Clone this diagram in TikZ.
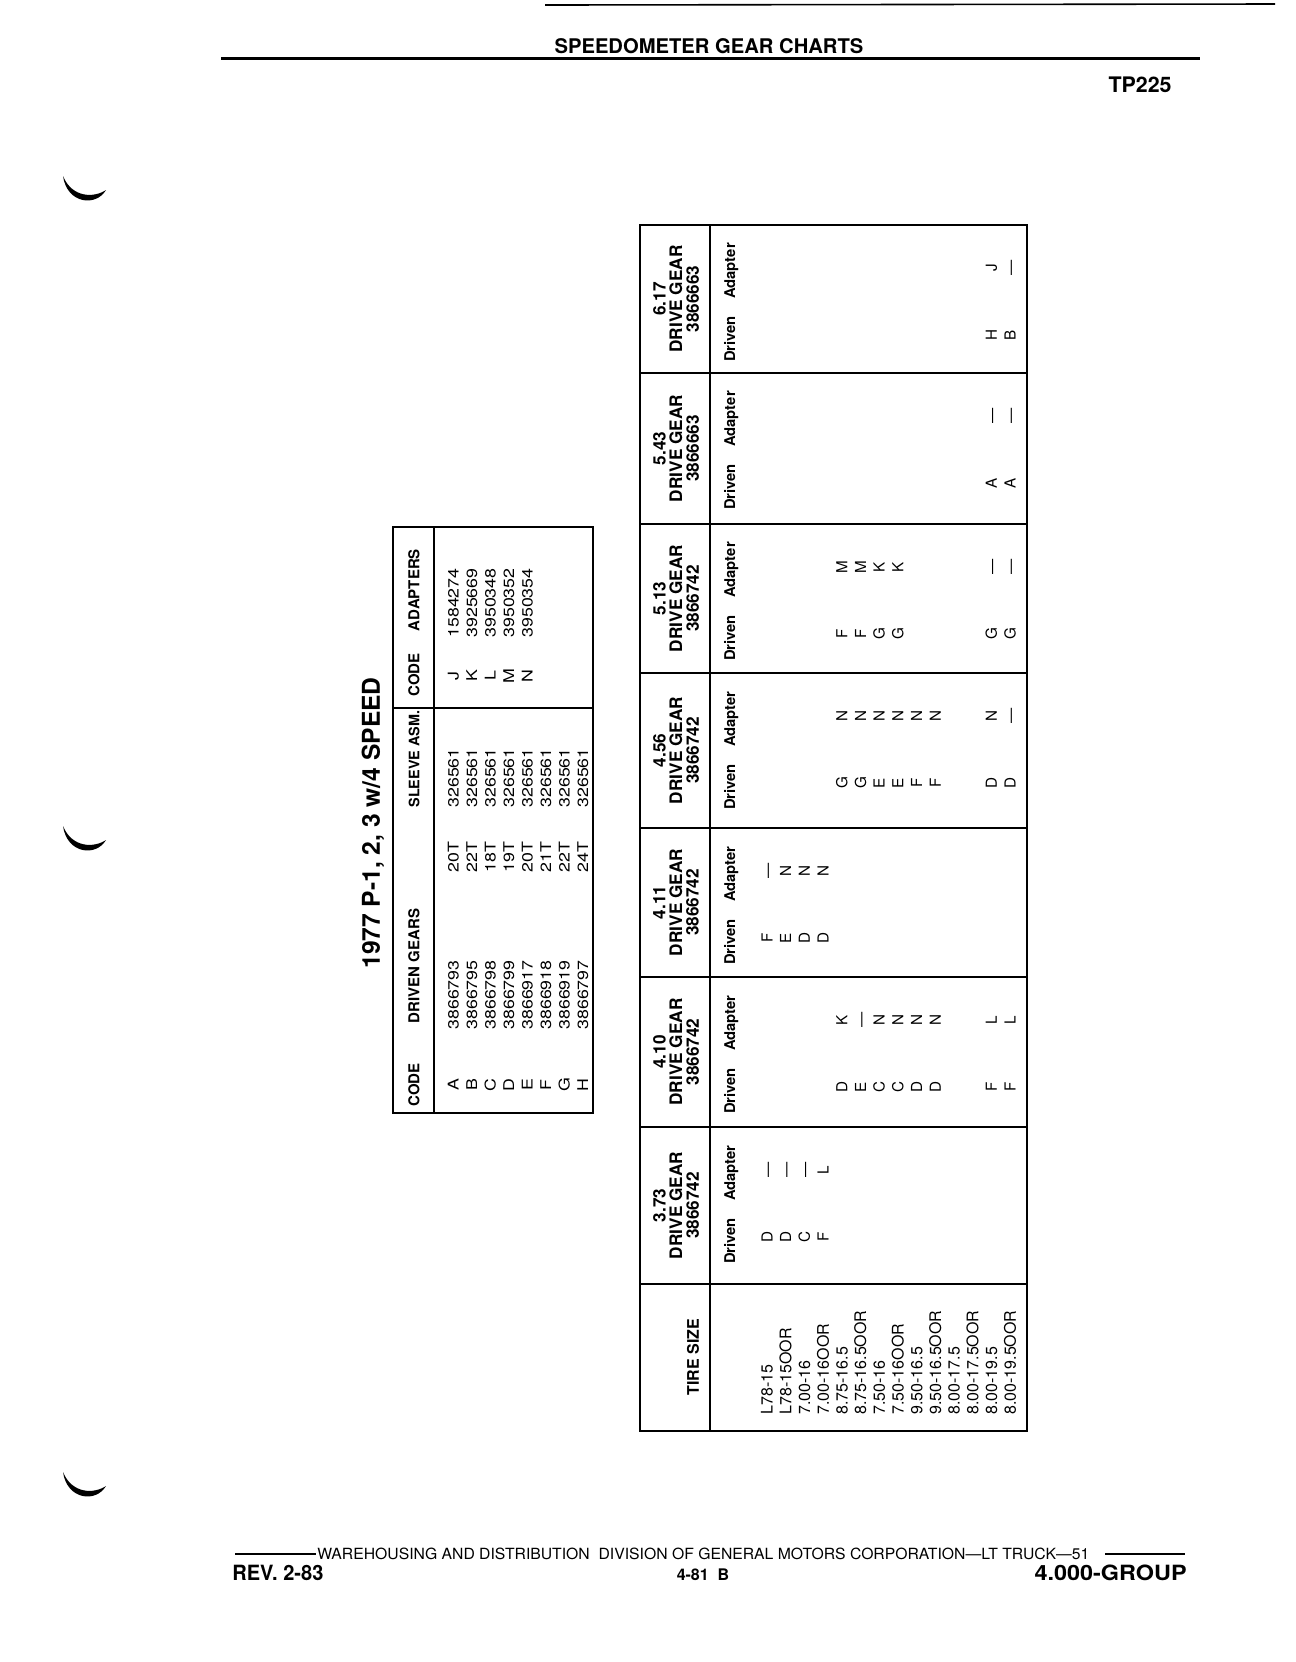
\documentclass[tikz,border=0pt]{standalone}
\usepackage{fontspec}
\setmainfont{TeX Gyre Heros}
\newfontfamily\widefont[FakeStretch=1.2]{TeX Gyre Heros}
\usepackage{graphicx}

\begin{document}
\begin{tikzpicture}[x=0.5pt, y=-0.5pt]
    \tikzset{frame/.style = {line width=1pt},
             hdr/.style = {rotate=90, inner sep=0pt, align=center, font=\fontsize{8.6}{8.3}\selectfont\bfseries},
             lbl/.style = {rotate=90, inner sep=0pt, anchor=base, font=\fontsize{7.4}{9}\selectfont\bfseries},
             cell/.style = {rotate=90, inner sep=0pt, anchor=base, font=\fontsize{7.6}{8}\selectfont},
             tire/.style = {rotate=90, inner sep=0pt, anchor=base west, font=\fontsize{8}{9}\selectfont},
             colhdr/.style = {rotate=90, inner sep=0pt, font=\fontsize{7.5}{8}\selectfont\bfseries},
             entry/.style = {rotate=90, inner sep=0pt, font=\widefont\fontsize{7.4}{8}\selectfont},
             plain/.style = {inner sep=0pt}
            }
    \useasboundingbox (0,0) rectangle (1296,1662);

    % page head
    \draw[line width=0.8pt] (545,5) -- (1275,4);
    \draw[line width=1.5pt] (221,58) -- (1200,58);
    \node[plain, anchor=base, font=\fontsize{10.1}{12}\selectfont\bfseries] (head) at (709,53) {SPEEDOMETER GEAR CHARTS};
    \node[plain, anchor=base east, font=\fontsize{10.7}{12}\selectfont\bfseries] (page) at (1172,92) {TP225};

    % binder holes
    \foreach \dy in {0,650,1296}
        \fill[shift={(0,\dy)}] (63,176) .. controls (67,204) and (96,207) .. (106,190)
            .. controls (94,198) and (72,198) .. (63,176) -- cycle;

    % code table
    \node[plain, rotate=90, font=\fontsize{12.3}{14}\selectfont\bfseries] (chart) at (373,823) {1977 P-1, 2, 3 w/4 SPEED};
    \draw[frame] (393,527) rectangle (593,1113);
    \draw[frame] (434,527) -- (434,1113);
    \draw[frame] (393,708) -- (593,708);
    \node[colhdr] (hcode) at (414,1085) {CODE};
    \node[colhdr] (hgears) at (414,966) {DRIVEN GEARS};
    \node[colhdr, font=\fontsize{7.2}{8}\selectfont\bfseries] (hsleeve) at (414,759) {SLEEVE ASM.};
    \node[colhdr] (hacode) at (414,675) {CODE};
    \node[colhdr] (hadapt) at (414,590) {ADAPTERS};
    \foreach \code/\part/\teeth [count=\i] in {A/3866793/20T, B/3866795/22T, C/3866798/18T, D/3866799/19T,
                                              E/3866917/20T, F/3866918/21T, G/3866919/22T, H/3866797/24T} {
        \node[entry, anchor=base] (code\i) at ({458.5+18.5*(\i-1)},1085) {\code};
        \node[entry, anchor=base west] (part\i) at ({458.5+18.5*(\i-1)},1030) {\part};
        \node[entry, anchor=base west] (teeth\i) at ({458.5+18.5*(\i-1)},873) {\teeth};
        \node[entry, anchor=base west] (sleeve\i) at ({458.5+18.5*(\i-1)},808) {326561};
    }
    \foreach \code/\part [count=\i] in {J/1584274, K/3925669, L/3950348, M/3950352, N/3950354} {
        \node[entry, anchor=base] (acode\i) at ({458.5+18.5*(\i-1)},676) {\code};
        \node[entry, anchor=base west] (adapt\i) at ({458.5+18.5*(\i-1)},638) {\part};
    }

    % gear chart
    \draw[frame] (640,225) rectangle (1027,1431);
    \draw[frame] (710,225) -- (710,1431);
    \foreach \y in {373,524,673,828,977,1127,1284}
        \draw[frame] (640,\y) -- (1027,\y);
    \foreach \ya/\yb/\ratio/\part [count=\i] in {225/373/6.17/3866663, 373/524/5.43/3866663, 524/673/5.13/3866742,
                                                 673/828/4.56/3866742, 828/977/4.11/3866742, 977/1127/4.10/3866742,
                                                 1127/1284/3.73/3866742} {
        \node[hdr] (drive\i) at (676,{(\ya+\yb)/2}) {\ratio\\DRIVE GEAR\\\part};
        \node[lbl] (driven\i) at (735,\ya+114) {Driven};
        \node[lbl] (adapter\i) at (735,\ya+46) {Adapter};
    }
    \foreach \ya/\row/\drv/\adp in {225/13/H/J, 225/14/B/\textemdash,
                                    373/13/A/\textemdash, 373/14/A/\textemdash,
                                    524/5/F/M, 524/6/F/M, 524/7/G/K, 524/8/G/K, 524/13/G/\textemdash, 524/14/G/\textemdash,
                                    673/5/G/N, 673/6/G/N, 673/7/E/N, 673/8/E/N, 673/9/F/N, 673/10/F/N, 673/13/D/N, 673/14/D/\textemdash,
                                    828/1/F/\textemdash, 828/2/E/N, 828/3/D/N, 828/4/D/N,
                                    977/5/D/K, 977/6/E/\textemdash, 977/7/C/N, 977/8/C/N, 977/9/D/N, 977/10/D/N, 977/13/F/L, 977/14/F/L,
                                    1127/1/D/\textemdash, 1127/2/D/\textemdash, 1127/3/C/\textemdash, 1127/4/F/L} {
        \node[cell] (d-\ya-\row) at ({772.5+18.7*(\row-1)},\ya+110) {\drv};
        \node[cell] (a-\ya-\row) at ({772.5+18.7*(\row-1)},\ya+43) {\adp};
    }
    \node[plain, rotate=90, font=\fontsize{8}{9}\selectfont\bfseries] (tiresize) at (693,1357) {TIRE SIZE};
    \foreach \size [count=\i] in {L78-15, L78-15OOR, 7.00-16, 7.00-16OOR, 8.75-16.5, 8.75-16.5OOR, 7.50-16,
                                  7.50-16OOR, 9.50-16.5, 9.50-16.5OOR, 8.00-17.5, 8.00-17.5OOR, 8.00-19.5, 8.00-19.5OOR}
        \node[tire] (tire\i) at ({772.7+18.7*(\i-1)},1415) {\size};

    % page foot
    \draw[line width=0.7pt] (235,1554) -- (316,1554);
    \node[plain, anchor=base west, font=\fontsize{7.7}{9}\selectfont] (org) at (317,1559)
        {\resizebox{386pt}{\height}{WAREHOUSING AND DISTRIBUTION\ \ DIVISION OF GENERAL MOTORS CORPORATION\textemdash LT TRUCK\textemdash 51}};
    \draw[line width=0.7pt] (1105,1554) -- (1185,1554);
    \node[plain, anchor=base west, font=\fontsize{10.5}{12}\selectfont\bfseries] (rev) at (232,1580) {\resizebox{45.5pt}{\height}{REV. 2-83}};
    \node[plain, anchor=base, font=\fontsize{8}{9}\selectfont\bfseries] (date) at (703,1580) {4-81\ \ B};
    \node[plain, anchor=base east, font=\fontsize{10.5}{12}\selectfont\bfseries] (group) at (1187,1580) {\resizebox{76pt}{\height}{4.000-GROUP}};
\end{tikzpicture}
\end{document}
